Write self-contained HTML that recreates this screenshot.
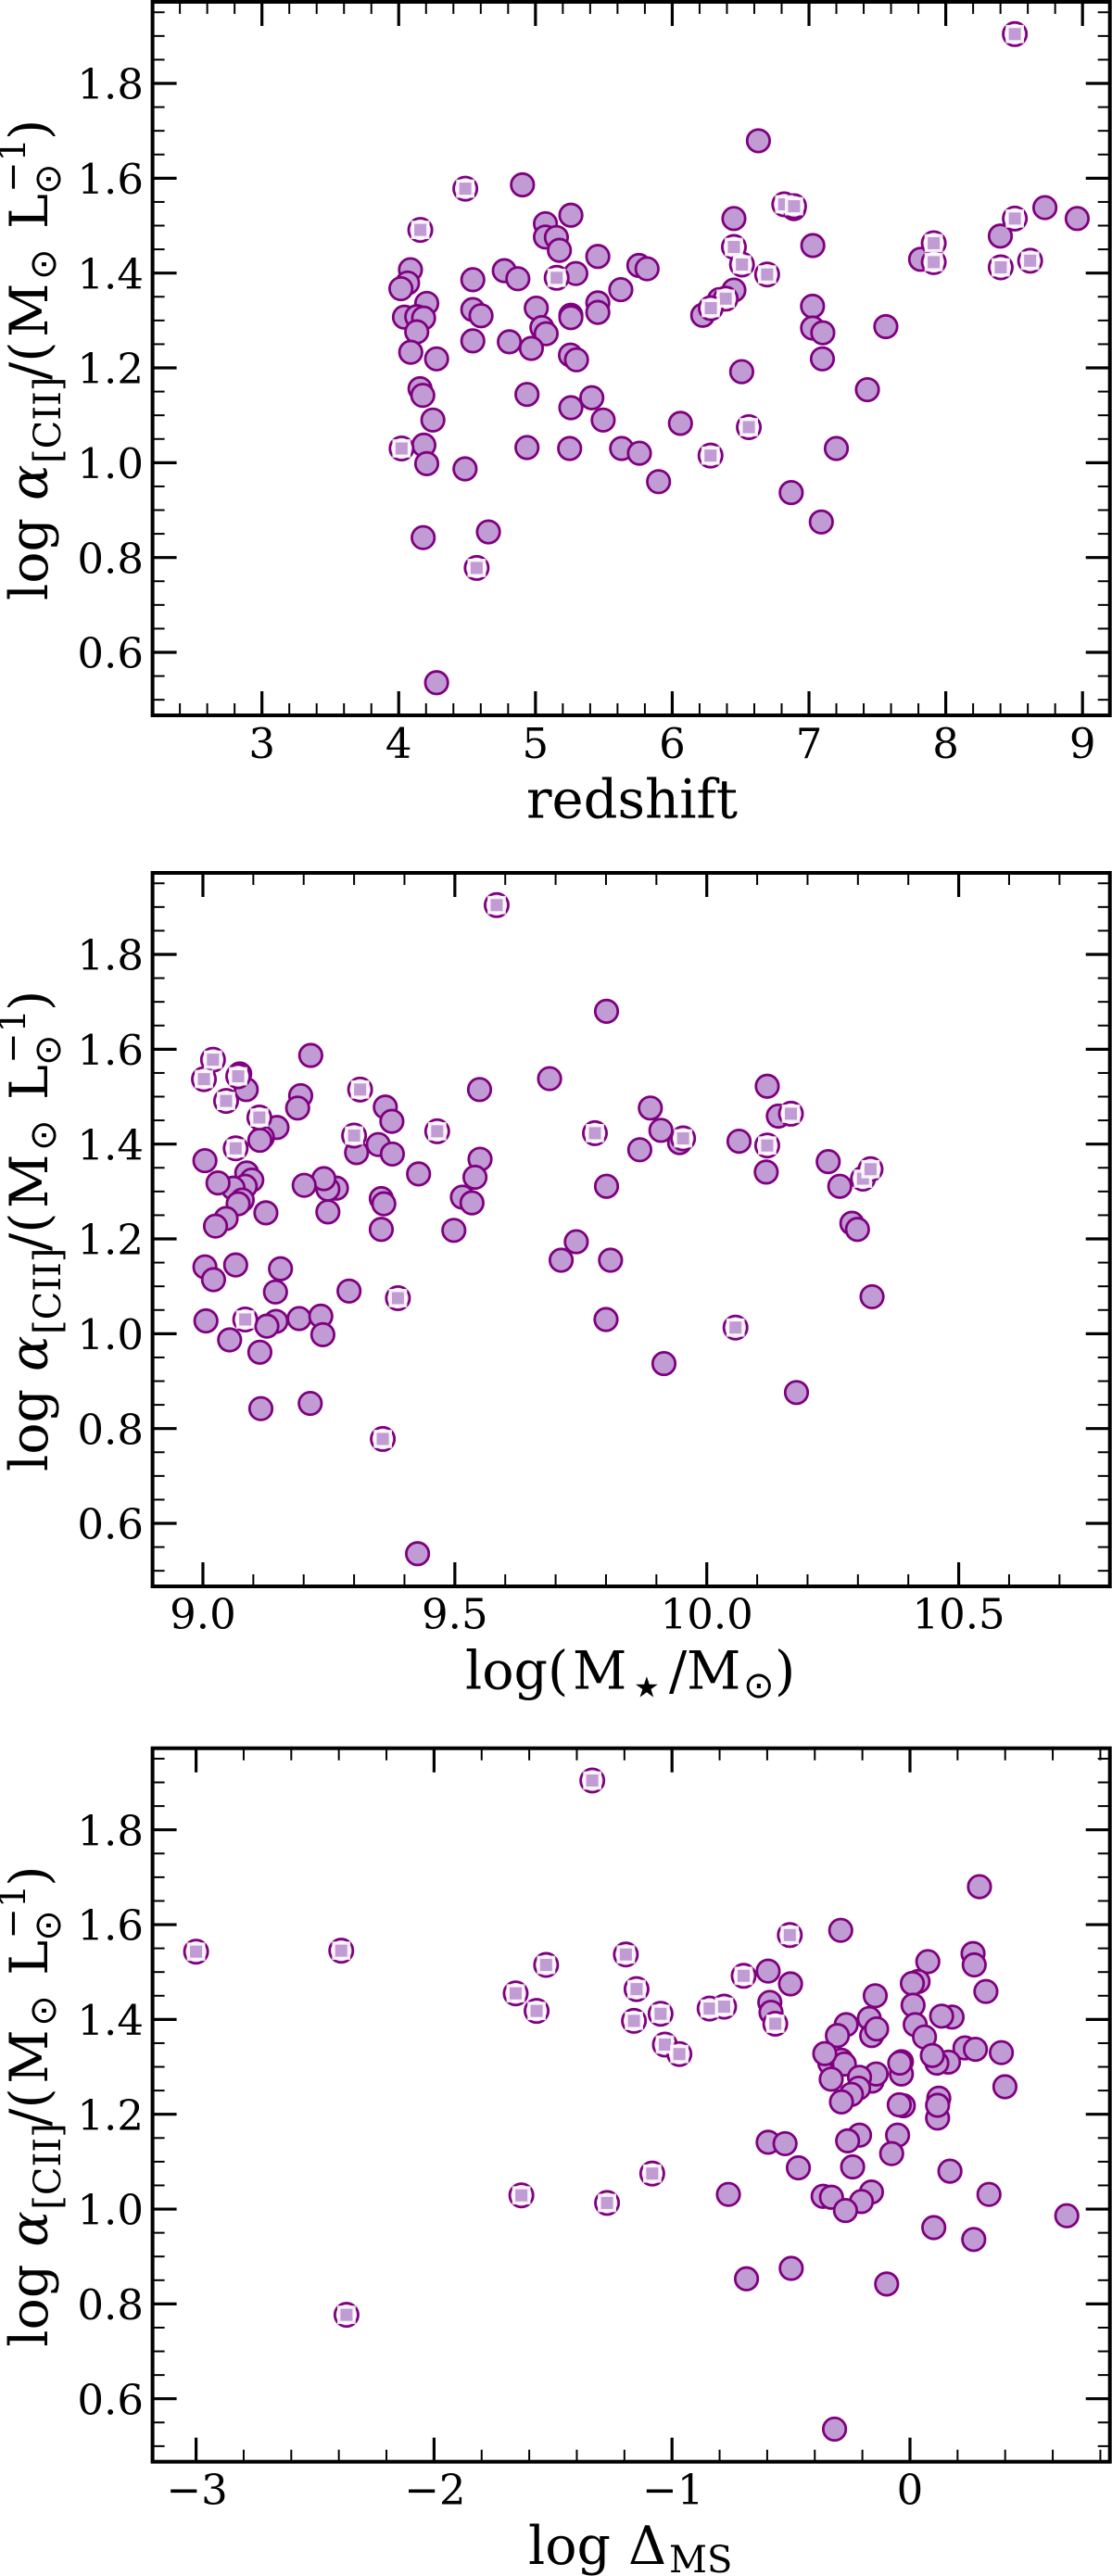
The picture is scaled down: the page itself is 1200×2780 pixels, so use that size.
<!DOCTYPE html>
<html lang="en">
<head>
<meta charset="utf-8">
<title>log alpha CII vs redshift, stellar mass and main-sequence offset</title>
<style>
html,body{margin:0;padding:0;background:#fff;}
svg{display:block;}
text{font-family:"DejaVu Serif","Liberation Serif",serif;fill:#000;}
</style>
</head>
<body>
<svg id="figure" xmlns="http://www.w3.org/2000/svg" width="1200" height="2780" viewBox="0 0 1200 2780">
  <rect x="0" y="0" width="1200" height="2780" fill="#fff"/>
  <g id="panels"></g>

  <text x="682" y="882.7" font-size="57.6" text-anchor="middle">redshift</text>

  <text y="1822.7" font-size="57"><tspan x="502">log(</tspan><tspan x="618">M</tspan><tspan x="684" y="1831.5" font-size="31" font-family="DejaVu Sans">★</tspan><tspan x="722" y="1822.7">/</tspan><tspan x="741">M</tspan><tspan x="802" y="1832" font-size="40" font-family="DejaVu Sans">⊙</tspan><tspan x="836" y="1822.7">)</tspan></text>

  <text y="2767" font-size="57"><tspan x="570">log</tspan><tspan x="678">Δ</tspan><tspan x="722" y="2776" font-size="40">MS</tspan></text>

  <g transform="translate(51,648) rotate(-90)">
    <text font-size="57" y="0"><tspan x="0">log</tspan><tspan x="108" font-style="italic">α</tspan><tspan x="148" y="14" font-size="40">[CII]</tspan><tspan x="238" y="0">/(</tspan><tspan x="284">M</tspan><tspan x="346" y="9" font-size="40" font-family="DejaVu Sans">⊙</tspan><tspan x="401" y="0">L</tspan><tspan x="438" y="14" font-size="40" font-family="DejaVu Sans">⊙</tspan><tspan x="440" y="-24" font-size="40">−1</tspan><tspan x="497" y="0">)</tspan></text>
  </g>
  <g transform="translate(51,1588) rotate(-90)">
    <text font-size="57" y="0"><tspan x="0">log</tspan><tspan x="108" font-style="italic">α</tspan><tspan x="148" y="14" font-size="40">[CII]</tspan><tspan x="238" y="0">/(</tspan><tspan x="284">M</tspan><tspan x="346" y="9" font-size="40" font-family="DejaVu Sans">⊙</tspan><tspan x="401" y="0">L</tspan><tspan x="438" y="14" font-size="40" font-family="DejaVu Sans">⊙</tspan><tspan x="440" y="-24" font-size="40">−1</tspan><tspan x="497" y="0">)</tspan></text>
  </g>
  <g transform="translate(51,2532.7) rotate(-90)">
    <text font-size="57" y="0"><tspan x="0">log</tspan><tspan x="108" font-style="italic">α</tspan><tspan x="148" y="14" font-size="40">[CII]</tspan><tspan x="238" y="0">/(</tspan><tspan x="284">M</tspan><tspan x="346" y="9" font-size="40" font-family="DejaVu Sans">⊙</tspan><tspan x="401" y="0">L</tspan><tspan x="438" y="14" font-size="40" font-family="DejaVu Sans">⊙</tspan><tspan x="440" y="-24" font-size="40">−1</tspan><tspan x="497" y="0">)</tspan></text>
  </g>
</svg>

<script>
// ---------- shared tick values ----------
const alphaTicks = [0.6, 0.8, 1.0, 1.2, 1.4, 1.6, 1.8];
const alphaTickLabels = ['0.6', '0.8', '1.0', '1.2', '1.4', '1.6', '1.8'];

// ---------- panel 1: redshift ----------
const redshiftTicks = [3, 4, 5, 6, 7, 8, 9];
const redshiftTickLabels = ['3', '4', '5', '6', '7', '8', '9'];
const redshiftCircleX = [4.905,5.073,5.073,5.153,5.175,4.086,4.065,4.016,4.542,4.772,4.871,4.205,4.542,4.602,5.006,4.042,4.132,4.182,4.132,5.047,5.078,4.542,4.809,4.97,4.088,4.277,4.156,4.176,4.938,4.25,4.184,4.205,4.485,4.938,4.179,4.656,4.277,6.63,5.259,6.451,8.725,8.961,8.399,7.028,7.816,5.456,5.756,5.816,5.295,5.624,6.451,6.345,6.223,5.456,5.456,5.259,5.259,7.026,7.026,7.101,7.562,7.098,6.508,7.427,5.256,5.30,5.412,5.259,5.495,6.06,5.25,5.63,5.76,5.90,6.89,6.87,7.09,7.2];
const redshiftCircleAlpha = [1.586,1.504,1.476,1.475,1.448,1.407,1.379,1.367,1.386,1.405,1.388,1.336,1.323,1.31,1.326,1.307,1.308,1.305,1.276,1.285,1.272,1.257,1.255,1.241,1.233,1.219,1.156,1.142,1.144,1.09,1.037,0.998,0.987,1.032,0.842,0.854,0.536,1.679,1.522,1.515,1.538,1.515,1.478,1.458,1.429,1.435,1.416,1.409,1.399,1.365,1.364,1.344,1.311,1.337,1.317,1.311,1.306,1.33,1.284,1.274,1.287,1.219,1.192,1.154,1.227,1.217,1.137,1.116,1.09,1.083,1.03,1.03,1.02,0.96,1.536,0.937,0.875,1.03];
const redshiftSquareX = [4.487,4.158,5.155,4.021,4.57,8.505,6.819,6.891,8.505,6.451,6.51,6.694,7.912,7.912,8.617,8.402,6.391,6.282,6.56,6.28];
const redshiftSquareAlpha = [1.578,1.491,1.39,1.03,0.778,1.904,1.545,1.541,1.515,1.455,1.418,1.397,1.463,1.423,1.426,1.412,1.346,1.326,1.075,1.015];

// ---------- panel 2: stellar mass ----------
const massTicks = [9.0, 9.5, 10.0, 10.5];
const massTickLabels = ['9.0', '9.5', '10.0', '10.5'];
const massCircleX = [9.073,9.086,9.214,9.194,9.188,9.147,9.118,9.113,9.004,9.362,9.375,9.348,9.376,9.305,9.428,9.549,9.688,9.55,9.54,9.515,9.534,9.498,9.354,9.359,9.354,9.248,9.265,9.248,9.24,9.201,9.125,9.087,9.097,9.084,9.06,9.03,9.078,9.07,9.046,9.025,9.004,9.021,9.065,9.154,9.144,9.29,9.006,9.145,9.127,9.191,9.234,9.238,9.053,9.113,9.115,9.213,9.426,9.801,9.888,9.909,9.946,9.867,10.064,10.118,10.12,10.142,10.241,10.264,9.801,10.288,10.299,9.741,9.711,9.809,9.80,9.915,10.178,10.328];
const massCircleAlpha = [1.548,1.515,1.587,1.502,1.476,1.435,1.414,1.408,1.365,1.478,1.448,1.399,1.379,1.382,1.337,1.515,1.538,1.368,1.33,1.288,1.276,1.218,1.285,1.274,1.22,1.257,1.307,1.305,1.327,1.313,1.255,1.339,1.324,1.311,1.307,1.318,1.282,1.274,1.243,1.227,1.141,1.114,1.145,1.137,1.088,1.09,1.027,1.026,1.016,1.032,1.037,0.998,0.987,0.961,0.842,0.853,0.536,1.68,1.476,1.429,1.403,1.388,1.406,1.341,1.522,1.459,1.363,1.311,1.311,1.233,1.22,1.194,1.155,1.155,1.03,0.937,0.876,1.078];
const massSquareX = [9.583,9.02,9.002,9.07,9.046,9.112,9.065,9.312,9.30,9.465,9.387,9.084,9.357,9.953,9.778,10.12,10.167,10.31,10.325,10.057];
const massSquareAlpha = [1.904,1.578,1.537,1.543,1.491,1.456,1.391,1.515,1.418,1.427,1.075,1.03,0.778,1.412,1.423,1.397,1.464,1.327,1.347,1.013];

// ---------- panel 3: main-sequence offset ----------
const deltaTicks = [-3, -2, -1, 0];
const deltaTickLabels = ['\u22123', '\u22122', '\u22121', '0'];
const deltaCircleX = [-0.291,0.292,-0.596,-0.502,-0.589,-0.584,0.075,0.265,0.27,0.319,-0.146,0.034,0.01,0.013,0.022,0.061,0.177,0.133,-0.171,-0.268,-0.161,-0.14,-0.305,-0.337,-0.289,-0.276,-0.358,0.231,0.275,0.384,0.162,0.113,0.094,-0.036,-0.036,-0.043,-0.159,-0.142,-0.212,-0.331,-0.216,-0.246,-0.288,0.399,-0.028,-0.045,0.121,0.116,0.116,-0.212,-0.262,-0.052,-0.596,-0.525,-0.077,-0.469,-0.241,0.168,-0.763,-0.162,-0.204,-0.365,-0.33,-0.271,0.332,0.1,0.268,0.659,-0.687,-0.499,-0.098,-0.317];
const deltaCircleAlpha = [1.588,1.68,1.502,1.475,1.436,1.415,1.522,1.539,1.515,1.459,1.45,1.48,1.476,1.43,1.389,1.363,1.405,1.407,1.402,1.389,1.366,1.38,1.366,1.308,1.314,1.306,1.328,1.34,1.337,1.33,1.31,1.308,1.324,1.311,1.285,1.308,1.27,1.285,1.278,1.274,1.255,1.242,1.226,1.258,1.218,1.22,1.234,1.192,1.219,1.156,1.144,1.156,1.141,1.138,1.117,1.087,1.089,1.08,1.031,1.036,1.016,1.027,1.025,0.997,1.031,0.961,0.936,0.986,0.853,0.875,0.842,0.536];
const deltaSquareX = [-3,-2.39,-1.657,-1.569,-1.529,-2.368,-1.633,-1.083,-1.273,-1.335,-1.194,-1.149,-1.16,-1.048,-1.03,-0.969,-0.842,-0.781,-0.699,-0.505,-0.566];
const deltaSquareAlpha = [1.543,1.545,1.455,1.418,1.515,0.777,1.029,1.075,1.013,1.904,1.537,1.464,1.397,1.412,1.347,1.327,1.423,1.427,1.492,1.578,1.391];

// ---------- drawing ----------
const NS = 'http://www.w3.org/2000/svg';
const root = document.getElementById('panels');
const LEFT = 164.6, RIGHT = 1197.7;
const ALPHA_MAX = 1.972, PX_PER_ALPHA = 511.67, PLOT_HEIGHT = 770;
const RING = '#800080', FILL = '#c19bd3', FLAGGED_FILL = '#ede2f2';

function make(tag, parent, attrs) {
  const el = document.createElementNS(NS, tag);
  for (const k in attrs) el.setAttribute(k, attrs[k]);
  parent.appendChild(el);
  return el;
}

function drawPanel(panelName, top, xMin, xMax, minorStep, ticks, tickLabels, labelGap, cx, cy, sx, sy) {
  const g = make('g', root, {});
  
  

  const bottom = top + PLOT_HEIGHT;
  const xScale = v => LEFT + (v - xMin) / (xMax - xMin) * (RIGHT - LEFT);
  const yScale = v => top + (ALPHA_MAX - v) * PX_PER_ALPHA;

  // markers
  const marks = make('g', g, {});
  
  
  cx.forEach((x, i) => {
    const c = make('circle', marks, { cx: xScale(x), cy: yScale(cy[i]), r: 12.2, fill: FILL, stroke: RING, 'stroke-width': 2.8 });
    
    
  });
  sx.forEach((x, i) => {
    const c = make('circle', marks, { cx: xScale(x), cy: yScale(sy[i]), r: 12.6, fill: FLAGGED_FILL, stroke: RING, 'stroke-width': 2.8 });
    
    
  });
  sx.forEach((x, i) => {
    const s = make('rect', marks, { x: xScale(x) - 8.2, y: yScale(sy[i]) - 8.2, width: 16.4, height: 16.4, fill: FILL, stroke: '#fff', 'stroke-opacity': 0.88, 'stroke-width': 3.4 });
    
    
  });

  // ticks
  const tg = make('g', g, { stroke: '#000', fill: 'none' });
  
  
  const line = (x1, y1, x2, y2, w) => make('line', tg, { x1, y1, x2, y2, 'stroke-width': w });

  // x major ticks + labels
  ticks.forEach((t, i) => {
    const x = xScale(t);
    line(x, bottom, x, bottom - 26, 3.2);
    line(x, top, x, top + 26, 3.2);
    const label = make('text', g, { x: x + (tickLabels[i].charAt(0) === '\u2212' ? 1 : 0), y: bottom + labelGap, 'font-size': 45, 'text-anchor': 'middle' });
    label.textContent = tickLabels[i];
    
    
  });
  // x minor ticks
  for (let n = Math.ceil(xMin / minorStep - 1e-6); n * minorStep <= xMax + 1e-9; n++) {
    const v = n * minorStep;
    if (ticks.some(t => Math.abs(t - v) < 1e-6)) continue;
    const x = xScale(v);
    line(x, bottom, x, bottom - 13, 2);
    line(x, top, x, top + 13, 2);
  }
  // y major ticks + labels
  alphaTicks.forEach((t, i) => {
    const y = yScale(t);
    line(LEFT, y, LEFT + 26, y, 3.2);
    line(RIGHT, y, RIGHT - 26, y, 3.2);
    const label = make('text', g, { x: 155, y: y + 16.6, 'font-size': 45, 'text-anchor': 'end' });
    label.textContent = alphaTickLabels[i];
    
    
  });
  // y minor ticks
  for (let n = 10; n * 0.05 <= ALPHA_MAX; n++) {
    const v = n * 0.05;
    if (alphaTicks.some(t => Math.abs(t - v) < 1e-6)) continue;
    const y = yScale(v);
    if (y > bottom) continue;
    line(LEFT, y, LEFT + 13, y, 2);
    line(RIGHT, y, RIGHT - 13, y, 2);
  }

  // frame
  const frame = make('rect', g, { x: LEFT, y: top, width: RIGHT - LEFT, height: PLOT_HEIGHT, fill: 'none', stroke: '#000', 'stroke-width': 4 });
  
  
}

drawPanel('redshift', 2, 2.2, 9.2, 0.2, redshiftTicks, redshiftTickLabels, 46, redshiftCircleX, redshiftCircleAlpha, redshiftSquareX, redshiftSquareAlpha);
drawPanel('stellar-mass', 942, 8.9, 10.8, 0.1, massTicks, massTickLabels, 45.5, massCircleX, massCircleAlpha, massSquareX, massSquareAlpha);
drawPanel('delta-ms', 1886.7, -3.183, 0.84, 0.2, deltaTicks, deltaTickLabels, 46, deltaCircleX, deltaCircleAlpha, deltaSquareX, deltaSquareAlpha);
</script>
</body>
</html>
